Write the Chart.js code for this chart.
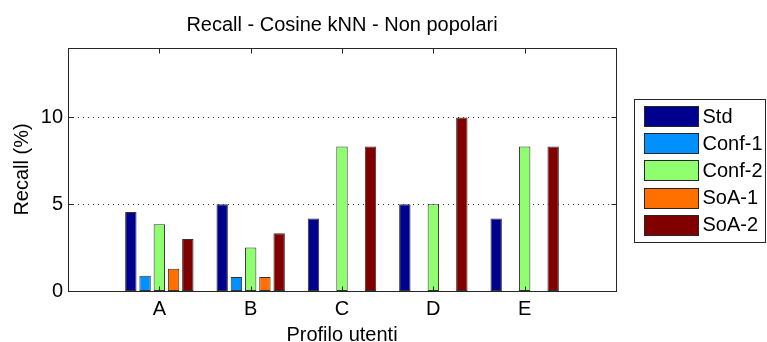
<!DOCTYPE html>
<html>
<head>
<meta charset="utf-8">
<script src="https://cdn.jsdelivr.net/npm/chart.js@4/dist/chart.umd.min.js"></script>
<style>
  html, body { margin: 0; padding: 0; background: #fff; }
  #wrap { width: 767px; height: 342px; position: relative; }
</style>
</head>
<body>
<div id="wrap"><canvas id="c" width="767" height="342"></canvas></div>
<script>
// Recall (%) per user profile, non-popular items, cosine kNN
const categories = ['A', 'B', 'C', 'D', 'E'];
const seriesNames = ['Std', 'Conf-1', 'Conf-2', 'SoA-1', 'SoA-2'];
const stdValues   = [4.55, 5.00, 4.17, 5.00, 4.17];
const conf1Values = [0.88, 0.80, 0, 0, 0];
const conf2Values = [3.85, 2.50, 8.33, 5.00, 8.33];
const soa1Values  = [1.28, 0.80, 0, 0, 0];
const soa2Values  = [3.00, 3.33, 8.33, 10.00, 8.33];
const yTicks = [0, 5, 10];
const yMax = 14;

const titleText = 'Recall - Cosine kNN - Non popolari';
const xTitle = 'Profilo utenti';
const yTitle = 'Recall (%)';

const colors = ['#00008F', '#0090FF', '#8FFF70', '#FF7000', '#800000'];
const FONT = "'Liberation Sans', Arial, sans-serif";

// one empty slot on each side of the groups, as in the original axes
const labels = [''].concat(categories, ['']);
const pad = arr => [null].concat(arr, [null]);
const allSeries = [stdValues, conf1Values, conf2Values, soa1Values, soa2Values];

const datasets = allSeries.map((vals, i) => ({
  label: seriesNames[i],
  data: pad(vals),
  backgroundColor: colors[i],
  borderColor: '#333333',
  borderWidth: 1,
  borderSkipped: false,
  categoryPercentage: 0.78,
  barPercentage: 0.8
}));

// axes box, inward ticks, dotted grid, title and framed legend
const framePlugin = {
  id: 'frame',
  beforeDatasetsDraw(chart) {
    const { ctx, chartArea: a, scales: { y } } = chart;
    ctx.save();
    ctx.strokeStyle = '#333';
    ctx.lineWidth = 1;
    ctx.setLineDash([1, 4]);
    yTicks.forEach(v => {
      if (v === 0) return;
      const py = Math.round(y.getPixelForValue(v)) + 0.5;
      ctx.beginPath();
      ctx.moveTo(a.left, py);
      ctx.lineTo(a.right, py);
      ctx.stroke();
    });
    ctx.restore();
  },
  afterDraw(chart) {
    const { ctx, chartArea: a, scales: { x, y } } = chart;
    ctx.save();
    ctx.strokeStyle = '#262626';
    ctx.lineWidth = 1;
    const L = Math.round(a.left) + 0.5, R = Math.round(a.right) + 0.5;
    const T = Math.round(a.top) + 0.5, B = Math.round(a.bottom) + 0.5;
    ctx.strokeRect(L, T, R - L, B - T);
    const tl = 5;
    ctx.beginPath();
    yTicks.forEach(v => {
      const py = Math.round(y.getPixelForValue(v)) + 0.5;
      ctx.moveTo(L, py); ctx.lineTo(L + tl, py);
      ctx.moveTo(R, py); ctx.lineTo(R - tl, py);
    });
    categories.forEach((c, i) => {
      const px = Math.round(x.getPixelForValue(i + 1)) + 0.5;
      ctx.moveTo(px, B); ctx.lineTo(px, B - tl);
      ctx.moveTo(px, T); ctx.lineTo(px, T + tl);
    });
    ctx.stroke();

    // title
    ctx.fillStyle = '#000';
    ctx.font = '20px ' + FONT;
    ctx.textAlign = 'center';
    ctx.textBaseline = 'middle';
    ctx.fillText(titleText, (a.left + a.right) / 2, 25);

    // legend
    const bx = Math.round(a.right) + 18.5, by = 99.5, bw = 131, bh = 143;
    ctx.strokeStyle = '#262626';
    ctx.strokeRect(bx, by, bw, bh);
    ctx.textAlign = 'left';
    chart.data.datasets.forEach((ds, i) => {
      const cy = 116 + i * 27.2;
      const sx = bx + 10, sy = Math.round(cy - 10) + 0.5;
      ctx.fillStyle = ds.backgroundColor;
      ctx.fillRect(sx, sy, 54, 20);
      ctx.strokeStyle = '#262626';
      ctx.strokeRect(sx, sy, 54, 20);
      ctx.fillStyle = '#000';
      ctx.fillText(ds.label, sx + 58, cy + 1);
    });
    ctx.restore();
  }
};

new Chart(document.getElementById('c'), {
  type: 'bar',
  data: { labels, datasets },
  plugins: [framePlugin],
  options: {
    responsive: false,
    animation: false,
    layout: { padding: { left: 0, top: 48, right: 151, bottom: 0 } },
    plugins: {
      legend: { display: false },
      title: { display: false },
      tooltip: { enabled: false }
    },
    scales: {
      x: {
        type: 'category',
        offset: false,
        grid: { display: false, drawTicks: false },
        border: { display: false },
        ticks: { color: '#000', font: { size: 20, family: FONT }, padding: 6, maxRotation: 0, autoSkip: false },
        title: { display: true, text: xTitle, color: '#000', font: { size: 20, family: FONT }, padding: { top: 0, bottom: -5 } },
        afterFit(scale) { scale.height = 51; }
      },
      y: {
        min: 0,
        max: yMax,
        grid: { display: false, drawTicks: false },
        border: { display: false },
        afterBuildTicks(scale) { scale.ticks = yTicks.map(v => ({ value: v })); },
        ticks: { color: '#000', font: { size: 20, family: FONT }, padding: 5 },
        title: { display: true, text: yTitle, color: '#000', font: { size: 20, family: FONT }, padding: { top: 10, bottom: 0 } },
        afterFit(scale) { scale.width = 68; }
      }
    }
  }
});
</script>
</body>
</html>
